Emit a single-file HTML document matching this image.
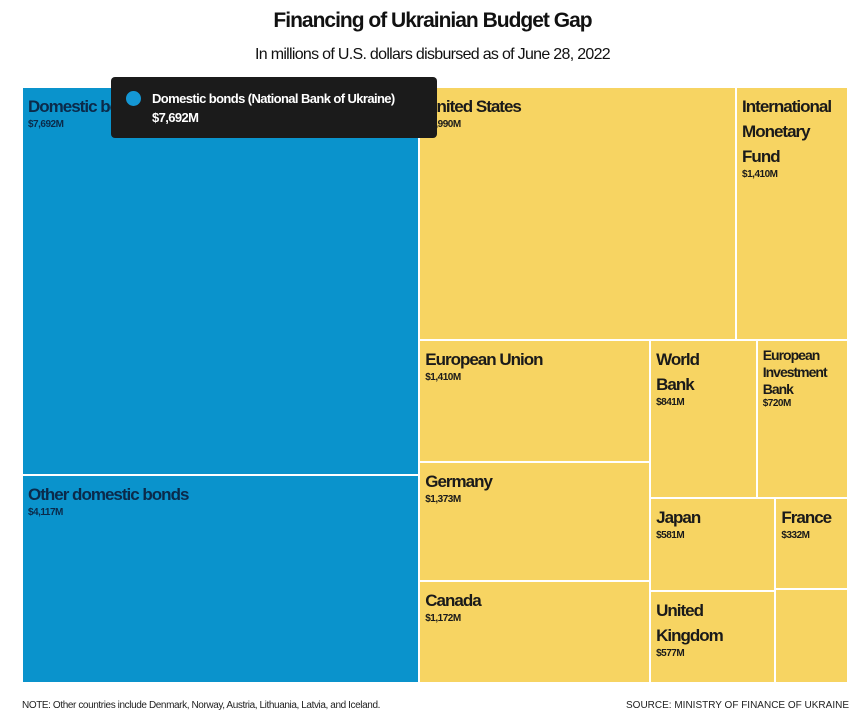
<!DOCTYPE html>
<html><head><meta charset="utf-8">
<style>
body{margin:0;width:865px;height:720px;background:#fff;font-family:"Liberation Sans",sans-serif;position:relative;overflow:hidden}
.t{position:absolute;left:0;width:865px;text-align:center;color:#111}
#chart{position:absolute;left:0;top:0}
.lbl{position:absolute;font-weight:bold;color:#1a1a1a;letter-spacing:-1px;line-height:25px;font-size:17px;white-space:nowrap}
.lbl .v{display:block;font-size:10px;line-height:12px;letter-spacing:-0.5px}
.small{font-size:14px;line-height:17px}
</style></head><body>
<div class="t" style="top:9px;font-size:21px;font-weight:bold;letter-spacing:-1px">Financing of Ukrainian Budget Gap</div>
<div class="t" style="top:46px;font-size:16px;letter-spacing:-0.7px">In millions of U.S. dollars disbursed as of June 28, 2022</div>
<div id="chart"></div>
<div style="position:absolute;left:111px;top:77px;width:326px;height:61px;background:#1b1b1b;border-radius:4px;color:#fff;font-weight:bold;letter-spacing:-0.6px">
<div style="position:absolute;left:15px;top:14px;width:15px;height:15px;border-radius:50%;background:#1497d4"></div>
<div style="position:absolute;left:41px;top:14px;font-size:13px">Domestic bonds (National Bank of Ukraine)</div>
<div style="position:absolute;left:41px;top:33px;font-size:13px">$7,692M</div>
</div>
<div style="position:absolute;left:22px;top:700px;font-size:10px;color:#222;letter-spacing:-0.4px">NOTE: Other countries include Denmark, Norway, Austria, Lithuania, Latvia, and Iceland.</div>
<div style="position:absolute;right:16px;top:700px;font-size:10px;color:#222">SOURCE: MINISTRY OF FINANCE OF UKRAINE</div>
<script>
const names=["Domestic bonds (National Bank of Ukraine)","Other domestic bonds","United States","International Monetary Fund","European Union","Germany","Canada","World Bank","European Investment Bank","Japan","France","United Kingdom","Other countries"];
const shortNames=["Domestic bonds","Other domestic bonds","United States","International<br>Monetary<br>Fund","European Union","Germany","Canada","World<br>Bank","European<br>Investment<br>Bank","Japan","France","United<br>Kingdom",""];
const values=[7692,4117,3990,1410,1410,1373,1172,841,720,581,332,577,339];
const valueLabels=["$7,692M","$4,117M","$3,990M","$1,410M","$1,410M","$1,373M","$1,172M","$841M","$720M","$581M","$332M","$577M",""];
const X0=22,Y0=87,W=826,H=596;
const chart=document.getElementById('chart');
const sum=a=>a.reduce((s,i)=>s+values[i],0);
const rects={};
function vstack(idx,x,y,w,h){let t=sum(idx),cy=y;idx.forEach(i=>{const hh=h*values[i]/t;rects[i]=[x,cy,w,hh];cy+=hh;});}
function hstack(idx,x,y,w,h){let t=sum(idx),cx=x;idx.forEach(i=>{const ww=w*values[i]/t;rects[i]=[cx,y,ww,h];cx+=ww;});}
const blue=[0,1],yel=[2,3,4,5,6,7,8,9,10,11,12];
const bw=W*sum(blue)/(sum(blue)+sum(yel));
vstack(blue,X0,Y0,bw,H);
const yx=X0+bw,yw=W-bw;
const topH=H*sum([2,3])/sum(yel);
hstack([2,3],yx,Y0,yw,topH);
const by=Y0+topH,bh=H-topH;
const rest=[7,8,9,10,11,12];
const c1w=yw*sum([4,5,6])/sum([4,5,6,...rest]);
vstack([4,5,6],yx,by,c1w,bh);
const c2x=yx+c1w,c2w=yw-c1w;
const r1h=bh*sum([7,8])/sum(rest);
hstack([7,8],c2x,by,c2w,r1h);
const r2y=by+r1h,r2h=bh-r1h;
const lw=c2w*sum([9,11])/sum([9,10,11,12]);
vstack([9,11],c2x,r2y,lw,r2h);
vstack([10,12],c2x+lw,r2y,c2w-lw,r2h);
values.forEach((v,i)=>{
 const [x,y,w,h]=rects[i];
 const d=document.createElement('div');
 
 
 d.style.cssText=`position:absolute;left:${x}px;top:${y}px;width:${w}px;height:${h}px;box-sizing:border-box;border:0.5px solid #fff;background:${i<2?'#0a93cc':'#f7d462'}`;
 chart.appendChild(d);
 if(shortNames[i]){
  const l=document.createElement('div');
  
  
  l.className='lbl'+(i==8?' small':'');
  l.style.left=(x+6)+'px';l.style.top=(y+7)+'px';
  if(i<2)l.style.color='#0b2a4a';
  l.innerHTML=shortNames[i]+'<span class="v">'+valueLabels[i]+'</span>';
  chart.appendChild(l);
 }
});
</script>
</body></html>
